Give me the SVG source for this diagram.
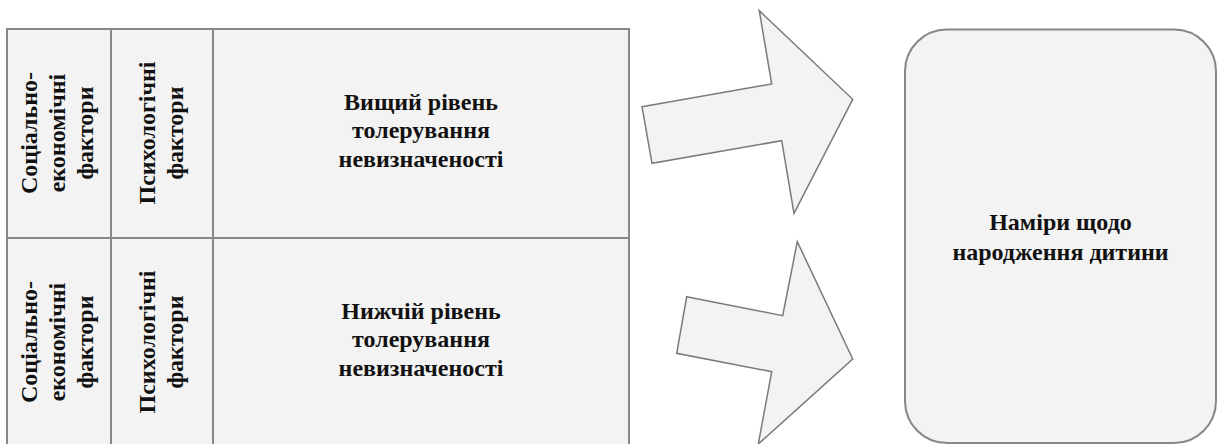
<svg xmlns="http://www.w3.org/2000/svg" width="1225" height="444" viewBox="0 0 1225 444">
  <style>
    .cell { fill: #f3f3f3; stroke: #878787; stroke-width: 2; }
    .shape { fill: #f3f3f3; stroke: #7a7a7a; stroke-width: 1.5; stroke-linejoin: miter; }
    .t { font-family: "Liberation Serif", "Times New Roman", serif; font-weight: bold; font-size: 24px; fill: #111; text-anchor: middle; }
  </style>
  <rect width="1225" height="444" fill="#ffffff"/>

  <g id="row-high">
    <rect class="cell" x="7" y="29" width="104" height="209"/>
    <rect class="cell" x="111" y="29" width="102" height="209"/>
    <rect class="cell" x="213" y="29" width="416" height="209"/>
    <text class="t" transform="translate(37,133) rotate(-90)">Соціально-</text>
    <text class="t" transform="translate(65,133) rotate(-90)">економічні</text>
    <text class="t" transform="translate(93,133) rotate(-90)">фактори</text>
    <text class="t" transform="translate(155,133) rotate(-90)">Психологічні</text>
    <text class="t" transform="translate(183,133) rotate(-90)">фактори</text>
    <text class="t" x="421" y="110">Вищий рівень</text>
    <text class="t" x="421" y="138">толерування</text>
    <text class="t" x="421" y="167">невизначеності</text>
  </g>

  <g id="row-low">
    <rect class="cell" x="7" y="238" width="104" height="212"/>
    <rect class="cell" x="111" y="238" width="102" height="212"/>
    <rect class="cell" x="213" y="238" width="416" height="212"/>
    <text class="t" transform="translate(37,342) rotate(-90)">Соціально-</text>
    <text class="t" transform="translate(65,342) rotate(-90)">економічні</text>
    <text class="t" transform="translate(93,342) rotate(-90)">фактори</text>
    <text class="t" transform="translate(155,342) rotate(-90)">Психологічні</text>
    <text class="t" transform="translate(183,342) rotate(-90)">фактори</text>
    <text class="t" x="421" y="319">Нижчій рівень</text>
    <text class="t" x="421" y="347">толерування</text>
    <text class="t" x="421" y="376">невизначеності</text>
  </g>

  <g id="connectors">
    <polygon class="shape" points="642,106.7 771.7,84 759.3,10.7 852.7,99.3 794,213.3 781.7,140.7 652,163.3"/>
    <polygon class="shape" points="686.7,296.7 782.7,315.7 797.3,241.7 852.7,359 758.3,444 771.7,371.7 676.7,353.3"/>
  </g>

  <g id="intentions">
    <rect class="cell" x="905" y="29.5" width="311" height="413.5" rx="42" ry="42"/>
    <text class="t" x="1060.5" y="230">Наміри щодо</text>
    <text class="t" x="1060.5" y="260">народження дитини</text>
  </g>
</svg>
